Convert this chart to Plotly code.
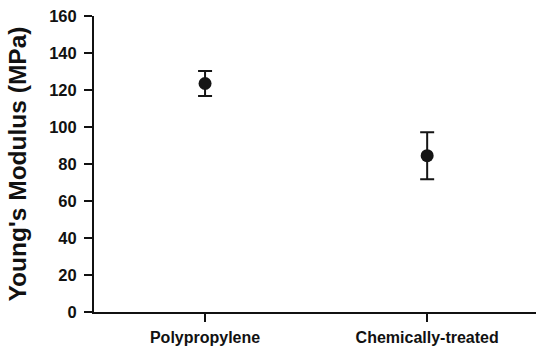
import plotly.graph_objects as go

categories = ["Polypropylene", "Chemically-treated"]
modulus = [123.5, 84.5]
errors = [6.8, 12.7]
y_ticks = [0, 20, 40, 60, 80, 100, 120, 140, 160]

fig = go.Figure()
fig.add_trace(go.Scatter(
    x=categories, y=modulus, mode="markers",
    marker=dict(size=13, color="#151515"),
    error_y=dict(type="data", array=errors, visible=True,
                 color="#151515", thickness=2, width=7),
    showlegend=False,
))

font_family = "Liberation Sans, Arial, sans-serif"
fig.update_layout(
    width=536, height=348,
    margin=dict(l=94, r=0, t=16, b=36),
    plot_bgcolor="white", paper_bgcolor="white",
    font=dict(family=font_family, color="#111111"),
)
fig.update_xaxes(
    type="category", range=[-0.5, 1.49], automargin=False,
    showline=True, linecolor="#111111", linewidth=2,
    ticks="outside", ticklen=8, tickwidth=2, tickcolor="#111111",
    tickfont=dict(size=16, family=font_family, weight="bold"),
    showgrid=False, zeroline=False, ticklabelstandoff=2,
)
fig.update_yaxes(
    range=[0, 160], tickvals=y_ticks, automargin=False,
    showline=True, linecolor="#111111", linewidth=2,
    ticks="outside", ticklen=8, tickwidth=2, tickcolor="#111111",
    tickfont=dict(size=16.5, family=font_family, weight="bold"),
    showgrid=False, zeroline=False, ticklabelstandoff=4,
    title=dict(text="Young's Modulus (MPa)", standoff=16,
               font=dict(size=24.5, family=font_family, weight="bold")),
)
fig.write_html("out.html", config={"displayModeBar": False},
               post_script="document.body.style.margin='0';")
